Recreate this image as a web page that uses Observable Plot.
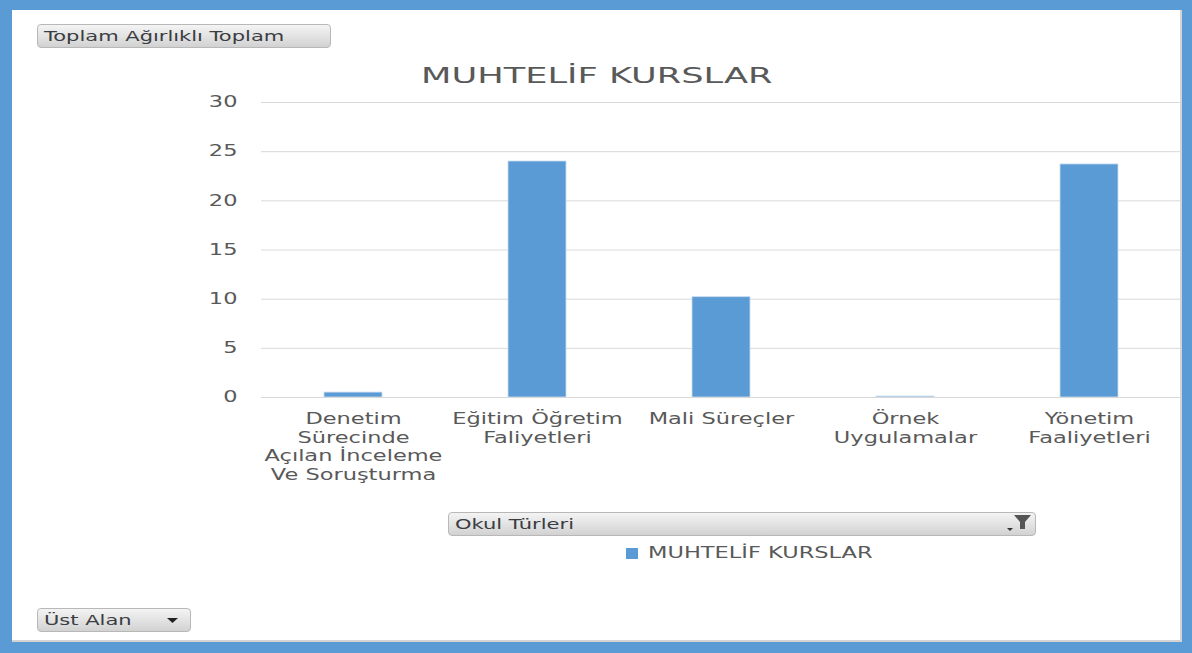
<!DOCTYPE html>
<html><head><meta charset="utf-8">
<script src="https://cdn.jsdelivr.net/npm/d3@7"></script>
<script src="https://cdn.jsdelivr.net/npm/@observablehq/plot@0.6"></script>
<style>
html,body{margin:0;padding:0;background:#fff;}
#frame{position:absolute;left:0;top:0;width:1192px;height:653px;box-sizing:border-box;border:solid #5b9bd5;border-width:10px 10px 11px 12px;background:#fff;overflow:hidden;font-family:"DejaVu Sans",sans-serif;box-shadow:inset -2px -2px 0 #d4d4d4;}
.btn{position:absolute;box-sizing:border-box;border:1px solid #b8b8b8;border-radius:4px;background:linear-gradient(#f4f4f4,#d2d2d2);color:#3a3d42;font-size:14px;line-height:22px;padding-left:6px;white-space:nowrap;}
.st{display:inline-block;transform:scaleX(1.5);transform-origin:left center;}
#title{position:absolute;left:0;width:1170px;text-align:center;top:53px;font-size:22px;color:#595959;}
#title .st{transform:scaleX(1.6);transform-origin:center center;}
#legend{position:absolute;left:614px;top:533px;font-size:15px;color:#595959;line-height:20px;}
#legend span.sw{display:inline-block;width:12px;height:11px;background:#5b9bd5;margin-right:10px;vertical-align:-1px;}
#plot{position:absolute;left:0;top:0;z-index:1;}
#plot svg{max-width:none;}
</style></head>
<body>
<div id="frame">
  <div class="btn" style="left:25px;top:14px;width:294px;height:24px;"><span class="st">Toplam Ağırlıklı Toplam</span></div>
  <div id="title"><span class="st">MUHTELİF KURSLAR</span></div>
  <div class="btn" style="left:436px;top:502px;width:588px;height:24px;"><span class="st">Okul Türleri</span>
    <svg width="26" height="20" style="position:absolute;right:3px;top:1px" viewBox="0 0 26 20"><path d="M8 1h17l-6 7v7h-5v-7z" fill="#555"/><path d="M1 14h6l-3 3z" fill="#333"/></svg>
  </div>
  <div id="legend"><span class="sw"></span><span class="st">MUHTELİF KURSLAR</span></div>
  <div class="btn" style="left:25px;top:598px;width:154px;height:24px;"><span class="st">Üst Alan</span>
    <svg width="14" height="8" style="position:absolute;left:128px;top:8px"><path d="M1 1h11l-5.5 5z" fill="#222"/></svg>
  </div>
</div>
<div id="plot"></div>
<script>
const categories = [
  "Denetim Sürecinde Açılan İnceleme Ve Soruşturma",
  "Eğitim Öğretim Faliyetleri",
  "Mali Süreçler",
  "Örnek Uygulamalar",
  "Yönetim Faaliyetleri"
];
const tickLabels = [
  "Denetim\nSürecinde\nAçılan İnceleme\nVe Soruşturma",
  "Eğitim Öğretim\nFaliyetleri",
  "Mali Süreçler",
  "Örnek\nUygulamalar",
  "Yönetim\nFaaliyetleri"
];
const values = [0.5, 24.0, 10.2, 0.1, 23.7];
const yTicks = [0, 5, 10, 15, 20, 25, 30];

const data = categories.map((c, i) => ({category: c, value: values[i], label: tickLabels[i]}));
const labelOf = new Map(data.map(d => [d.category, d.label]));

const chart = Plot.plot({
  width: 1192,
  height: 500,
  marginLeft: 261,
  marginRight: 11,
  marginTop: 102,
  marginBottom: 103,
  style: {fontFamily: "DejaVu Sans, sans-serif", fontSize: "15px", color: "#595959", background: "transparent", overflow: "visible"},
  x: {domain: categories, paddingInner: 0.685, paddingOuter: 0.3425, label: null},
  y: {domain: [0, 30], label: null},
  marks: [
    Plot.gridY(yTicks, {stroke: "#d9d9d9", strokeOpacity: 1}),
    Plot.axisY(yTicks, {tickSize: 0, tickPadding: 24, fill: "#595959", fontSize: 15, label: null}),
    Plot.barY(data, {x: "category", y: "value", fill: "#5b9bd5", stroke: "#c9dcf0", strokeWidth: 0.8}),
    Plot.ruleY([0], {stroke: "#d9d9d9"}),
    Plot.axisX({tickSize: 0, tickPadding: 13, fill: "#595959", fontSize: 15, lineHeight: 1.25, tickFormat: d => labelOf.get(d), label: null})
  ]
});
// horizontally stretch the axis text to match the reference's wide lettering
chart.querySelectorAll("text").forEach(t => {
  const tr = t.getAttribute("transform");
  if (tr) {
    t.setAttribute("transform", tr + " scale(1.5,1)");
  } else {
    const x = +(t.getAttribute("x") || 0), y = +(t.getAttribute("y") || 0);
    t.setAttribute("transform", `translate(${x},${y}) scale(1.5,1) translate(${-x},${-y})`);
  }
});
document.getElementById("plot").appendChild(chart);
</script>
</body></html>
